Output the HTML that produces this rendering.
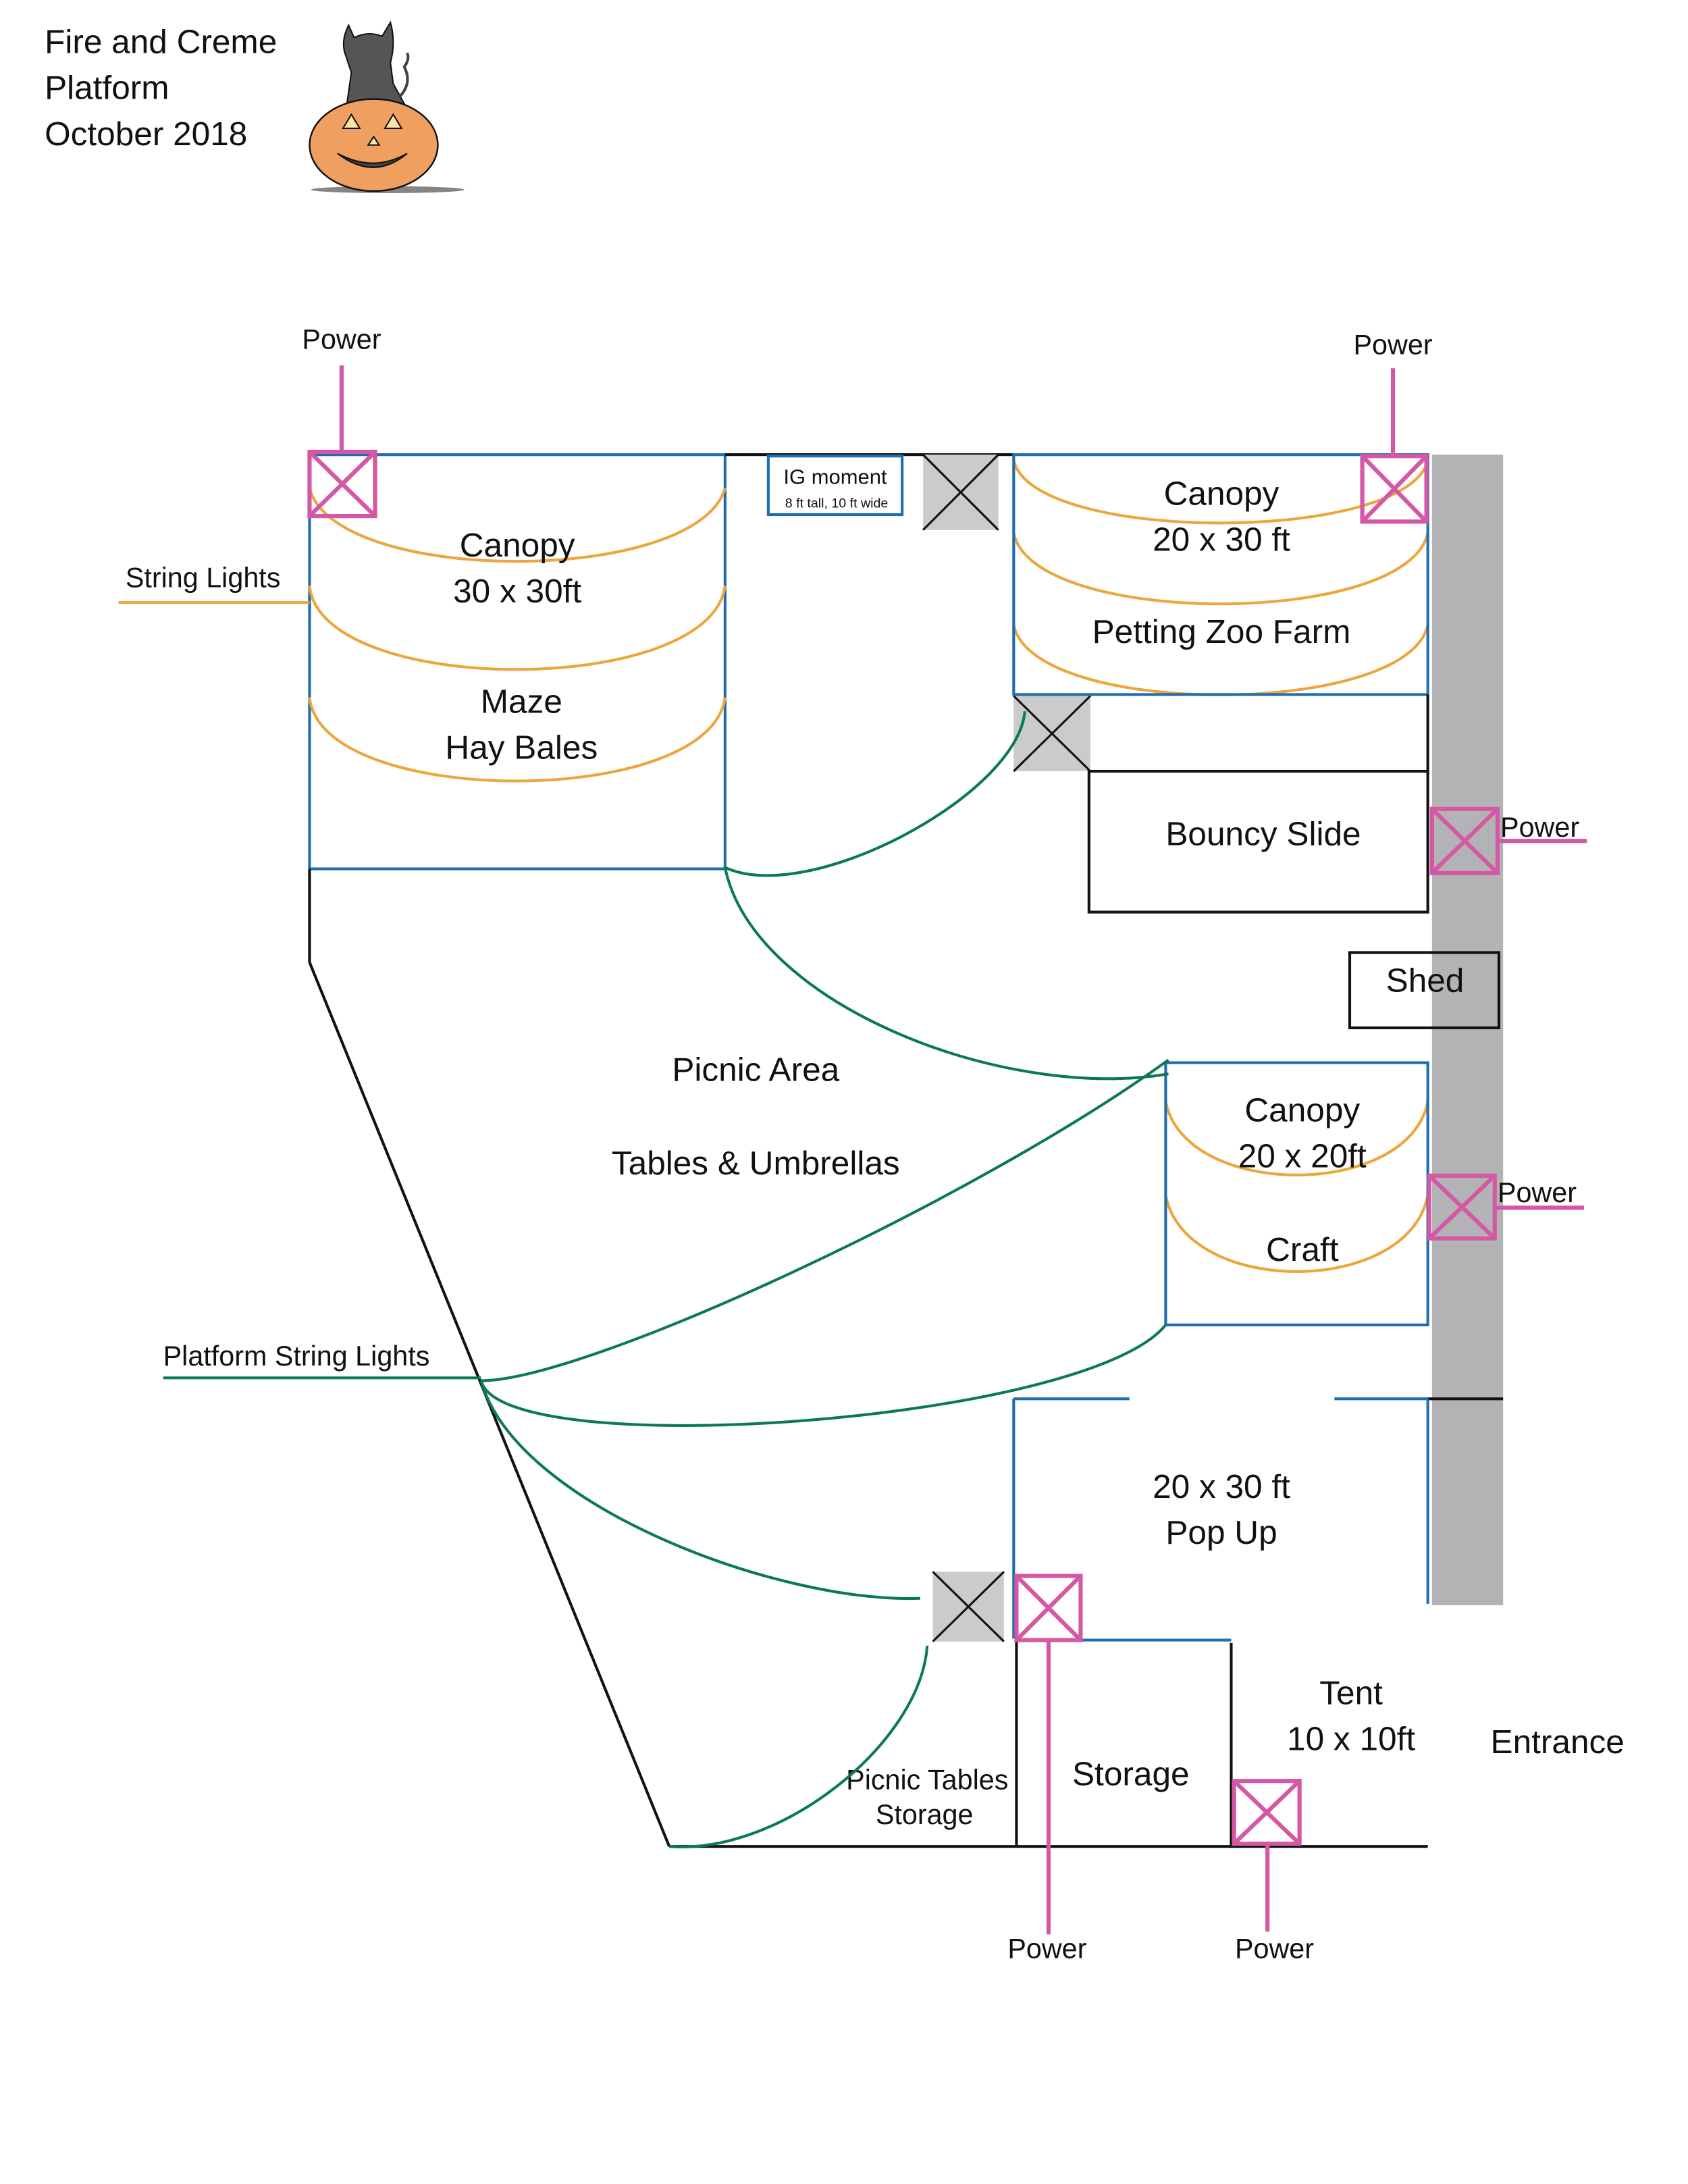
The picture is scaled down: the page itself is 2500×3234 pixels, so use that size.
<!DOCTYPE html>
<html><head><meta charset="utf-8"><style>
html,body{margin:0;padding:0;background:#fff}
svg{display:block}
text{font-family:"Liberation Sans",sans-serif;fill:#111}
</style></head><body>
<svg width="2500" height="3234" viewBox="0 0 1210.6 1566" preserveAspectRatio="none" xmlns="http://www.w3.org/2000/svg">
<rect width="1210.6" height="1566" fill="#fff"/>
<!-- title -->
<text x="32" y="38" font-size="24">Fire and Creme</text>
<text x="32" y="71" font-size="24">Platform</text>
<text x="32" y="104" font-size="24">October 2018</text>
<!-- cat & pumpkin -->
<ellipse cx="278" cy="136" rx="55" ry="2.5" fill="#333" opacity="0.6"/>
<path d="M248,80 L252,52 L248,40 Q244,30 250,18 L254,27 Q264,22 274,26 L280,16 Q284,30 280,45 L282,60 L293,80 Z" fill="#555" stroke="#111" stroke-width="1"/>
<path d="M286,70 Q296,60 290,48 Q294,42 292,38" fill="none" stroke="#444" stroke-width="2"/>
<ellipse cx="268" cy="104" rx="46" ry="33" fill="#ef9f5f" stroke="#111" stroke-width="1.2"/>
<path d="M246,92 L252,82 L258,92 Z M276,92 L282,82 L288,92 Z M264,104 L268,98 L272,104 Z" fill="#f8e6a8" stroke="#111"/>
<path d="M242,110 Q268,130 292,110 Q268,124 242,110 Z" fill="#443" stroke="#111"/>
<!-- left canopy -->
<rect x="222" y="326" width="298" height="297" fill="none" stroke="#1d6db3" stroke-width="2"/>
<g fill="none" stroke="#eda53d" stroke-width="2">
<path d="M222,350 C240,420 500,420 520,350"/>
<path d="M222,420 C230,500 510,500 520,420"/>
<path d="M222,500 C230,580 510,580 520,500"/>
<path d="M727,330 C740,390 1010,390 1024,330"/>
<path d="M727,382 C740,450 1010,450 1024,382"/>
<path d="M727,448 C740,515 1010,515 1024,448"/>
<path d="M836,790 C850,860 1010,860 1024,790"/>
<path d="M836,857 C850,930 1010,930 1024,857"/>
<line x1="85" y1="432" x2="222" y2="432"/>
</g>
<text x="371" y="399" font-size="24" text-anchor="middle">Canopy</text>
<text x="371" y="432" font-size="24" text-anchor="middle">30 x 30ft</text>
<text x="374" y="511" font-size="24" text-anchor="middle">Maze</text>
<text x="374" y="544" font-size="24" text-anchor="middle">Hay Bales</text>
<text x="90" y="421" font-size="20">String Lights</text>
<!-- top middle -->
<line x1="520" y1="326" x2="727" y2="326" stroke="#111" stroke-width="2"/>
<rect x="551" y="327" width="96" height="42" fill="#fff" stroke="#1d6db3" stroke-width="2"/>
<text x="599" y="347" font-size="15" text-anchor="middle">IG moment</text>
<text x="600" y="364" font-size="9.5" text-anchor="middle">8 ft tall, 10 ft wide</text>
<!-- gray X boxes -->
<g stroke="#111" stroke-width="1.5">
<rect x="662" y="326" width="54" height="54" fill="#cbcbcb" stroke="none"/>
<path d="M662,326 L716,380 M716,326 L662,380"/>
<rect x="727" y="499" width="55" height="54" fill="#cbcbcb" stroke="none"/>
<path d="M727,499 L782,553 M782,499 L727,553"/>
<rect x="669" y="1127" width="51" height="50" fill="#cbcbcb" stroke="none"/>
<path d="M669,1127 L720,1177 M720,1127 L669,1177"/>
</g>
<!-- right canopy -->
<rect x="727" y="326" width="297" height="172" fill="none" stroke="#1d6db3" stroke-width="2"/>
<text x="876" y="362" font-size="24" text-anchor="middle">Canopy</text>
<text x="876" y="395" font-size="24" text-anchor="middle">20 x 30 ft</text>
<text x="876" y="461" font-size="24" text-anchor="middle">Petting Zoo Farm</text>
<!-- gray strip -->
<rect x="1027" y="326" width="51" height="825" fill="#b3b3b6"/>
<!-- bouncy slide -->
<line x1="1024" y1="498" x2="1024" y2="553" stroke="#111" stroke-width="2"/>
<rect x="781" y="553" width="243" height="101" fill="none" stroke="#111" stroke-width="2"/>
<text x="906" y="606" font-size="24" text-anchor="middle">Bouncy Slide</text>
<rect x="968" y="683" width="107" height="54" fill="none" stroke="#111" stroke-width="2"/>
<text x="1022" y="711" font-size="24" text-anchor="middle">Shed</text>
<!-- craft -->
<rect x="836" y="762" width="188" height="188" fill="none" stroke="#1d6db3" stroke-width="2"/>
<text x="934" y="804" font-size="24" text-anchor="middle">Canopy</text>
<text x="934" y="837" font-size="24" text-anchor="middle">20 x 20ft</text>
<text x="934" y="904" font-size="24" text-anchor="middle">Craft</text>
<!-- pop up -->
<line x1="1024" y1="1003" x2="1078" y2="1003" stroke="#111" stroke-width="2"/>
<g stroke="#1d6db3" stroke-width="2">
<line x1="727" y1="1003" x2="810" y2="1003"/>
<line x1="957" y1="1003" x2="1024" y2="1003"/>
<line x1="727" y1="1003" x2="727" y2="1175"/>
<line x1="1024" y1="1003" x2="1024" y2="1150"/>
<line x1="775" y1="1176" x2="883" y2="1176"/>
</g>
<text x="876" y="1074" font-size="24" text-anchor="middle">20 x 30 ft</text>
<text x="876" y="1107" font-size="24" text-anchor="middle">Pop Up</text>
<!-- storage / tent -->
<g stroke="#111" stroke-width="2">
<line x1="729" y1="1176" x2="729" y2="1324"/>
<line x1="883" y1="1178" x2="883" y2="1324"/>
<line x1="480" y1="1324" x2="1024" y2="1324"/>
<line x1="222" y1="623" x2="222" y2="690"/>
<line x1="222" y1="690" x2="480" y2="1324"/>
</g>
<text x="811" y="1280" font-size="24" text-anchor="middle">Storage</text>
<text x="969" y="1222" font-size="24" text-anchor="middle">Tent</text>
<text x="969" y="1255" font-size="24" text-anchor="middle">10 x 10ft</text>
<text x="1117" y="1257" font-size="24" text-anchor="middle">Entrance</text>
<text x="665" y="1283" font-size="20" text-anchor="middle">Picnic Tables</text>
<text x="663" y="1308" font-size="20" text-anchor="middle">Storage</text>
<text x="542" y="775" font-size="24" text-anchor="middle">Picnic Area</text>
<text x="542" y="842" font-size="24" text-anchor="middle">Tables &amp; Umbrellas</text>
<text x="117" y="979" font-size="20">Platform String Lights</text>
<!-- green lines -->
<g fill="none" stroke="#0b7a4f" stroke-width="2">
<line x1="117" y1="988" x2="345" y2="988"/>
<path d="M345,990 C420,990 700,860 838,760"/>
<path d="M520,622 C540,720 720,790 838,770"/>
<path d="M520,622 C580,650 730,570 735,510"/>
<path d="M345,990 C360,1050 780,1020 836,950"/>
<path d="M345,990 C370,1080 560,1150 660,1146"/>
<path d="M480,1324 C560,1330 660,1250 665,1180"/>
</g>
<!-- power boxes -->
<g fill="none" stroke="#d558a4" stroke-width="3">
<rect x="222" y="324" width="47" height="46"/><path d="M222,324 L269,370 M269,324 L222,370"/>
<line x1="245" y1="262" x2="245" y2="324"/>
<rect x="977" y="327" width="46" height="47"/><path d="M977,327 L1023,374 M1023,327 L977,374"/>
<line x1="999" y1="264" x2="999" y2="327"/>
<rect x="1027" y="580" width="47" height="46"/><path d="M1027,580 L1074,626 M1074,580 L1027,626"/>
<line x1="1074" y1="603" x2="1138" y2="603"/>
<rect x="1025" y="843" width="47" height="45"/><path d="M1025,843 L1072,888 M1072,843 L1025,888"/>
<line x1="1072" y1="866" x2="1136" y2="866"/>
<rect x="729" y="1130" width="46" height="46"/><path d="M729,1130 L775,1176 M775,1130 L729,1176"/>
<line x1="752" y1="1176" x2="752" y2="1387"/>
<rect x="885" y="1277" width="47" height="45"/><path d="M885,1277 L932,1322 M932,1277 L885,1322"/>
<line x1="909" y1="1322" x2="909" y2="1385"/>
</g>
<text x="245" y="250" font-size="20" text-anchor="middle">Power</text>
<text x="999" y="254" font-size="20" text-anchor="middle">Power</text>
<text x="1076" y="600" font-size="20">Power</text>
<text x="1074" y="862" font-size="20">Power</text>
<text x="751" y="1404" font-size="20" text-anchor="middle">Power</text>
<text x="914" y="1404" font-size="20" text-anchor="middle">Power</text>
</svg>
</body></html>
